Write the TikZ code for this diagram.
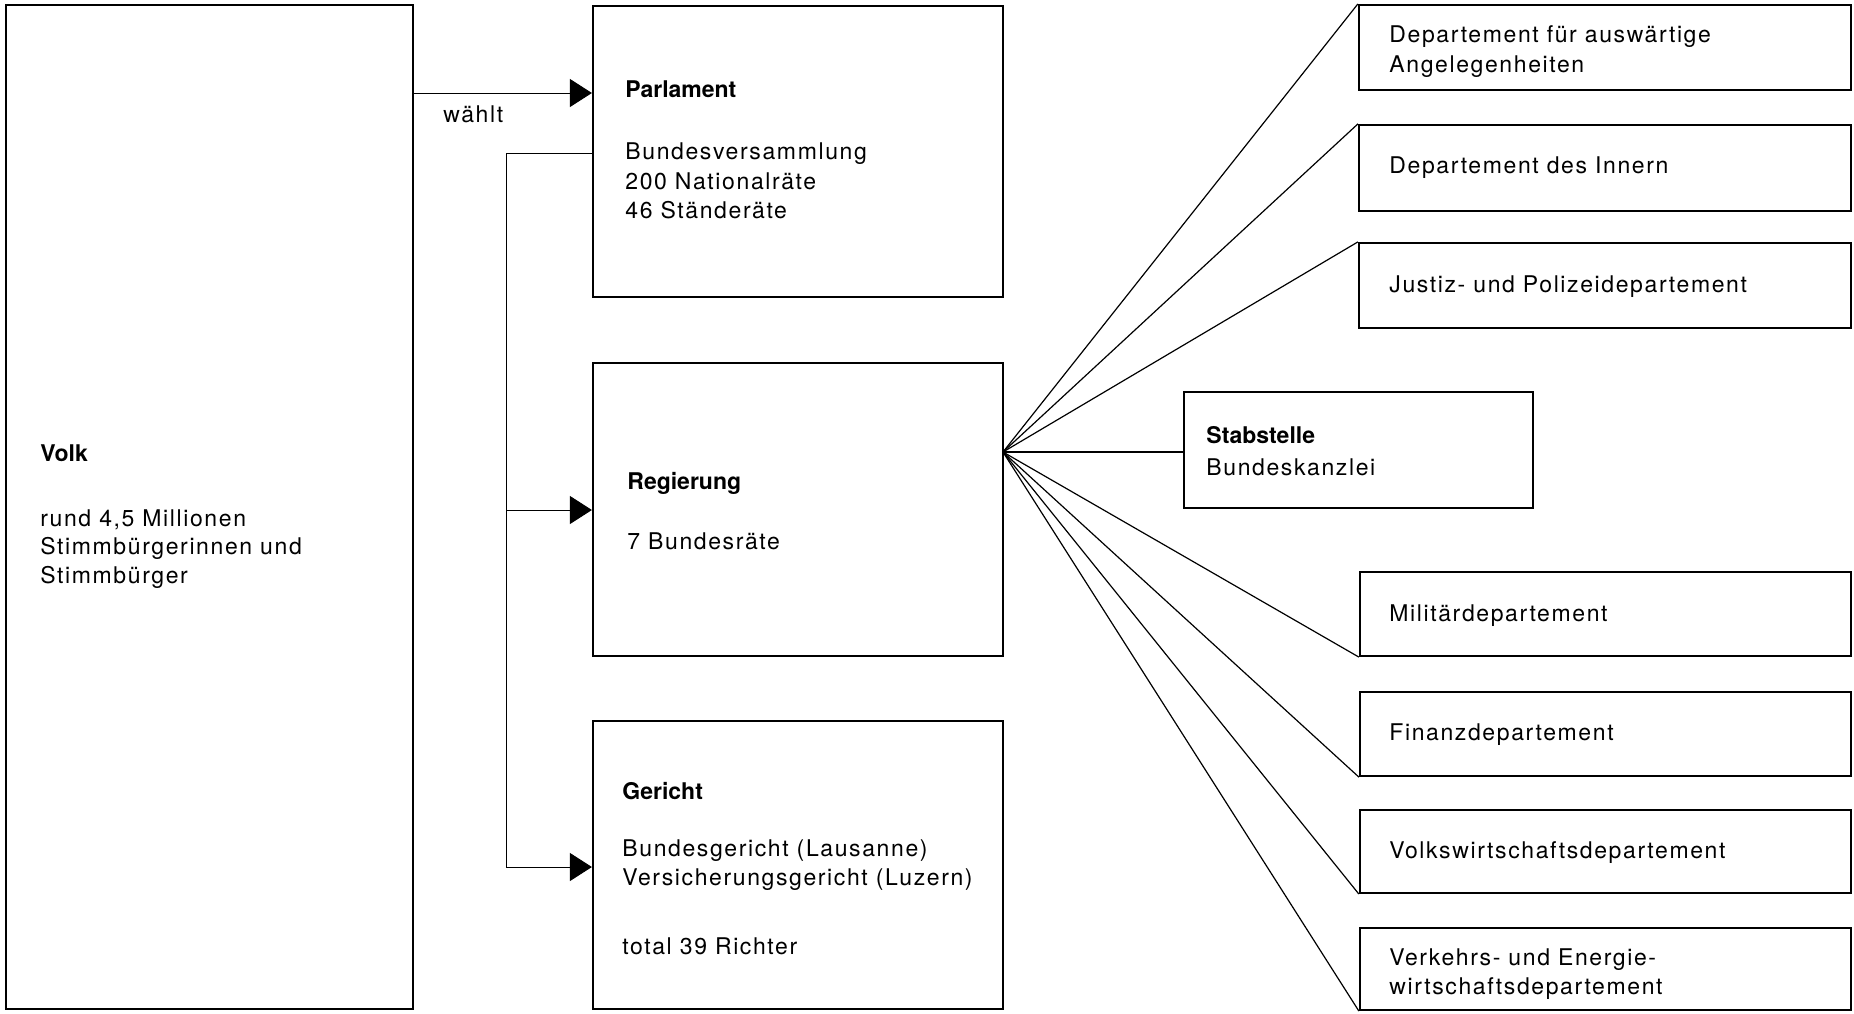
\documentclass[tikz,border=0pt]{standalone}
\usepackage{fontspec}
\newfontfamily\bodyf{TeX Gyre Heros}[LetterSpace=7]
\newfontfamily\headf{TeX Gyre Heros}
\usetikzlibrary{fit,arrows.meta}
\begin{document}
\begin{tikzpicture}[x=0.5pt,y=-0.5pt,
  box/.style={draw, line width=1.1pt, inner sep=0pt},
  conn/.style={line width=0.5pt},
  fanline/.style={line width=0.6pt},
  tip/.style={-{Triangle[length=11pt,width=14pt]}},
  txt/.style={anchor=base west, inner sep=0pt, font=\bodyf\fontsize{11.5}{14.25}\selectfont},
  head/.style={anchor=base west, inner sep=0pt, font=\headf\bfseries\fontsize{11.5}{14.25}\selectfont}
]
\useasboundingbox (0,0) rectangle (1854,1013);
\fill[white] (0,0) rectangle (1854,1013);

% boxes
\node[box, fit={(6,5) (413,1009)}] (volk) {};
\node[box, fit={(593,6) (1003,297)}] (parl) {};
\node[box, fit={(593,363) (1003,656)}] (reg) {};
\node[box, fit={(593,721) (1003,1009)}] (ger) {};
\node[box, fit={(1184,392) (1533,508)}] (stab) {};
\node[box, fit={(1359,5) (1851,90)}] (d1) {};
\node[box, fit={(1359,125) (1851,211)}] (d2) {};
\node[box, fit={(1359,243) (1851,328)}] (d3) {};
\node[box, fit={(1360,572) (1851,656)}] (d4) {};
\node[box, fit={(1360,692) (1851,776)}] (d5) {};
\node[box, fit={(1360,810) (1851,893)}] (d6) {};
\node[box, fit={(1360,928) (1851,1010)}] (d7) {};

% texts
\node[head] (tv1) at (40,461) {Volk};
\node[txt] (tv2) at (40,526) {rund 4,5 Millionen};
\node[txt] (tv3) at (40,554) {Stimmbürgerinnen und};
\node[txt] (tv4) at (40,583) {Stimmbürger};

\node[txt] (tw) at (443,122) {wählt};

\node[head] (tp1) at (625,97) {Parlament};
\node[txt] (tp2) at (625,159) {Bundesversammlung};
\node[txt] (tp3) at (625,189) {200 Nationalräte};
\node[txt] (tp4) at (625,218) {46 Ständeräte};

\node[head] (tr1) at (627,489) {Regierung};
\node[txt] (tr2) at (627,549) {7 Bundesräte};

\node[head] (tg1) at (622,799) {Gericht};
\node[txt] (tg2) at (622,856) {Bundesgericht (Lausanne)};
\node[txt] (tg3) at (622,885) {Versicherungsgericht (Luzern)};
\node[txt] (tg4) at (622,954) {total 39 Richter};

\node[head] (ts1) at (1206,443) {Stabstelle};
\node[txt] (ts2) at (1206,475) {Bundeskanzlei};

\node[txt] (t1a) at (1389,42) {Departement für auswärtige};
\node[txt] (t1b) at (1389,72) {Angelegenheiten};
\node[txt] (t2) at (1389,173) {Departement des Innern};
\node[txt] (t3) at (1389,292) {Justiz- und Polizeidepartement};
\node[txt] (t4) at (1389,621) {Militärdepartement};
\node[txt] (t5) at (1389,740) {Finanzdepartement};
\node[txt] (t6) at (1389,858) {Volkswirtschaftsdepartement};
\node[txt] (t7a) at (1389,965) {Verkehrs- und Energie-};
\node[txt] (t7b) at (1389,994) {wirtschaftsdepartement};

% connectors
\coordinate (wy) at (0,93);
\draw[conn,tip] (volk.east |- wy) -- (parl.west |- wy);

\coordinate (jt) at (506,153);
\coordinate (jr) at (506,510);
\coordinate (jg) at (506,867);
\draw[conn,tip] (parl.west |- jt) -- (jt) -- (jg) -- (ger.west |- jg);
\draw[conn,tip] (jr) -- (reg.west |- jr);

\coordinate (fan) at (1003,452);
\foreach \d in {d1,d2,d3} \draw[fanline] (fan) -- (\d.north west);
\foreach \d in {d4,d5,d6,d7} \draw[fanline] (fan) -- (\d.south west);
\draw[fanline] (fan) -- (stab.west |- fan);
\end{tikzpicture}
\end{document}
